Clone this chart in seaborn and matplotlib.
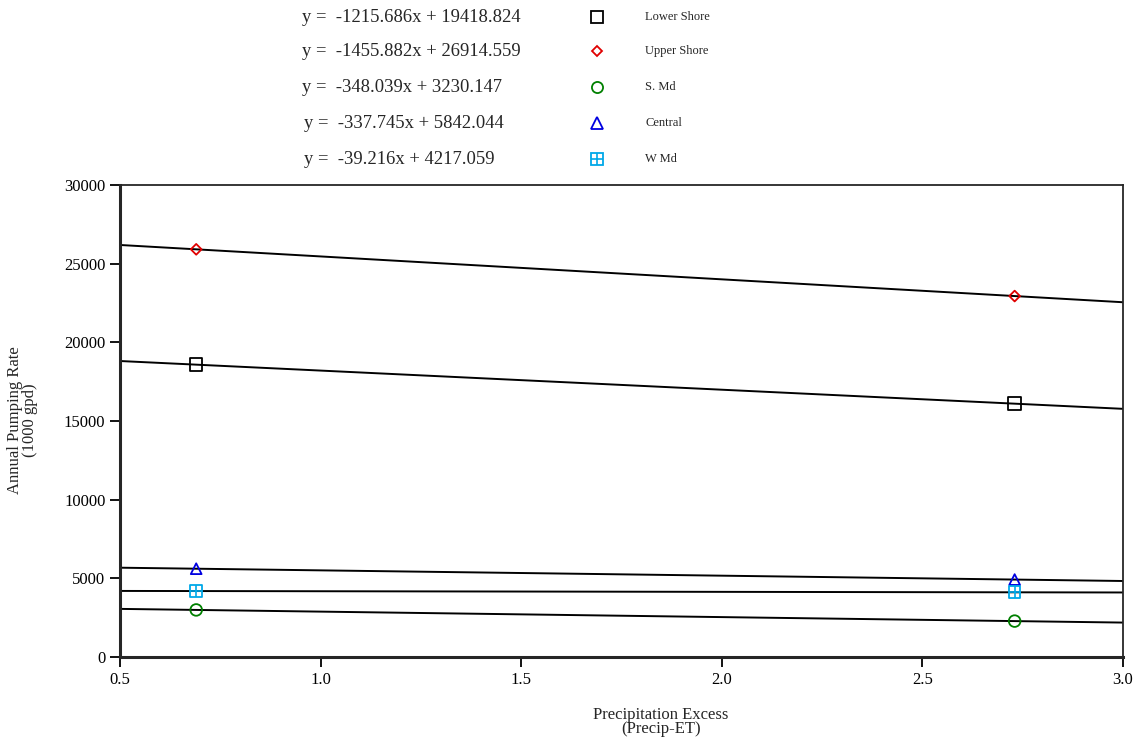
import matplotlib
matplotlib.use("Agg")
import matplotlib.pyplot as plt
import seaborn as sns
import pandas as pd

# regions and the two measured precipitation-excess values
regions = ["Lower Shore", "Upper Shore", "S. Md", "Central", "W Md"]
precip_x = [0.69, 2.73]
# annual pumping rate (1000 gpd) at the two x values
lower_shore = [18580, 16100]
upper_shore = [25910, 22940]
s_md = [2990, 2280]
central = [5610, 4920]
w_md = [4190, 4110]
equations = ["y =  -1215.686x + 19418.824",
             "y =  -1455.882x + 26914.559",
             "y =  -348.039x + 3230.147",
             "y =  -337.745x + 5842.044",
             "y =  -39.216x + 4217.059"]

series = [lower_shore, upper_shore, s_md, central, w_md]
colors = ["black", "#e00000", "#008000", "#0000e0", "#00a8e8"]
markers = ["s", "D", "o", "^", "s"]
msizes = [80, 30, 70, 60, 70]

rows = []
for name, vals in zip(regions, series):
    for x, v in zip(precip_x, vals):
        rows.append({"region": name, "x": x, "rate": v})
df = pd.DataFrame(rows)

sns.set_style("ticks")
plt.rcParams["font.family"] = ["Liberation Serif", "DejaVu Serif"]

fig = plt.figure(figsize=(11.35, 7.42), dpi=100)
ax = fig.add_axes([0.1057, 0.1146, 0.8837, 0.6361])
ax.set_xlim(0.5, 3.0)
ax.set_ylim(0, 30000)

for i, name in enumerate(regions):
    sub = df[df.region == name]
    sns.regplot(data=sub, x="x", y="rate", ax=ax, scatter=False, ci=None,
                truncate=False, color="black", line_kws={"lw": 1.4})
for i, name in enumerate(regions):
    sub = df[df.region == name]
    sns.scatterplot(data=sub, x="x", y="rate", ax=ax, marker=markers[i],
                    s=msizes[i], facecolor="none", edgecolor=colors[i],
                    linewidth=1.3, zorder=5)
    if name == "W Md":
        sns.scatterplot(data=sub, x="x", y="rate", ax=ax, marker="+",
                        s=70, color=colors[i], linewidth=1.2, zorder=6)

ax.set_xticks([0.5, 1.0, 1.5, 2.0, 2.5, 3.0])
ax.set_xticklabels(["0.5", "1.0", "1.5", "2.0", "2.5", "3.0"])
ax.set_yticks(range(0, 30001, 5000))
ax.tick_params(axis="both", labelsize=12, direction="out", length=7, width=1.3, colors="black")
ax.set_xlabel("")
ax.set_ylabel("")
for side in ["left", "bottom"]:
    ax.spines[side].set_linewidth(2.2)
for side in ["top", "right"]:
    ax.spines[side].set_visible(True)
    ax.spines[side].set_linewidth(1.3)

fig.text(0.02, 0.434, "Annual Pumping Rate\n(1000 gpd)", rotation=90,
         ha="center", va="center", fontsize=12, linespacing=0.9)
fig.text(0.582, 0.027, "Precipitation Excess\n(Precip-ET)", ha="center",
         va="center", fontsize=12, linespacing=0.9)

# legend block with the fitted equations
row_y = [17, 51, 87, 123, 159]
eq_x = [302, 302, 302, 304, 304]
for i, name in enumerate(regions):
    yf = 1 - row_y[i] / 742
    fig.text(eq_x[i] / 1135, yf, equations[i], ha="left", va="center", fontsize=13.4)
    fig.text(645 / 1135, yf, name, ha="left", va="center", fontsize=9)
    lax_x = 597 / 1135
    fig.lines.append(plt.Line2D([lax_x], [yf], marker=markers[i], color=colors[i],
                                markerfacecolor="none", markersize=8 if i != 1 else 5.5,
                                markeredgewidth=1.3, transform=fig.transFigure))
    if name == "W Md":
        fig.lines.append(plt.Line2D([lax_x], [yf], marker="+", color=colors[i],
                                    markersize=8, markeredgewidth=1.2,
                                    transform=fig.transFigure))

fig.savefig("out.png", dpi=100)
